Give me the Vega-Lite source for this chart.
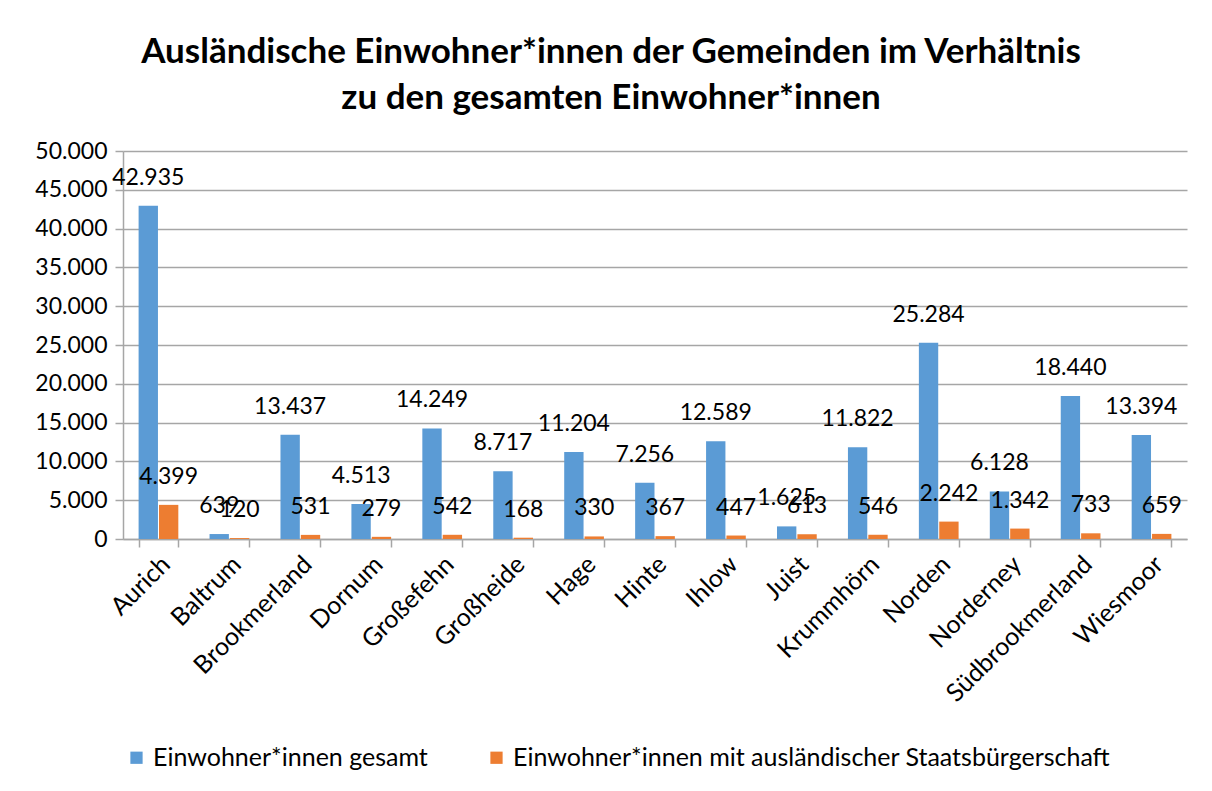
{
  "$schema": "https://vega.github.io/schema/vega-lite/v6.json",
  "width": 1064,
  "height": 388,
  "autosize": {"type": "none"},
  "padding": {"left": 123, "top": 151, "right": 25, "bottom": 252},
  "background": "white",
  "config": {
    "locale": {"number": {"decimal": ",", "thousands": ".", "grouping": [3], "currency": ["", " €"]}},
    "font": "Lato",
    "view": {"stroke": null},
    "axis": {"labelFont": "Lato", "labelFontSize": 23, "labelColor": "#000000", "domainColor": "#A6A6A6", "tickColor": "#A6A6A6", "gridColor": "#A6A6A6", "gridWidth": 1.5, "domainWidth": 1.5, "tickWidth": 1.5}
  },
  "title": {
    "text": ["Ausländische Einwohner*innen der Gemeinden im Verhältnis", "zu den gesamten Einwohner*innen"],
    "font": "Lato",
    "fontSize": 35,
    "fontWeight": "bold",
    "color": "#000000",
    "anchor": "middle",
    "dx": -44,
    "offset": 24,
    "lineHeight": 46
  },
  "data": {
    "values": [
      {"Gemeinde": "Aurich", "Serie": "Einwohner*innen gesamt", "Wert": 42935},
      {"Gemeinde": "Aurich", "Serie": "Einwohner*innen mit ausländischer Staatsbürgerschaft", "Wert": 4399},
      {"Gemeinde": "Baltrum", "Serie": "Einwohner*innen gesamt", "Wert": 639},
      {"Gemeinde": "Baltrum", "Serie": "Einwohner*innen mit ausländischer Staatsbürgerschaft", "Wert": 120},
      {"Gemeinde": "Brookmerland", "Serie": "Einwohner*innen gesamt", "Wert": 13437},
      {"Gemeinde": "Brookmerland", "Serie": "Einwohner*innen mit ausländischer Staatsbürgerschaft", "Wert": 531},
      {"Gemeinde": "Dornum", "Serie": "Einwohner*innen gesamt", "Wert": 4513},
      {"Gemeinde": "Dornum", "Serie": "Einwohner*innen mit ausländischer Staatsbürgerschaft", "Wert": 279},
      {"Gemeinde": "Großefehn", "Serie": "Einwohner*innen gesamt", "Wert": 14249},
      {"Gemeinde": "Großefehn", "Serie": "Einwohner*innen mit ausländischer Staatsbürgerschaft", "Wert": 542},
      {"Gemeinde": "Großheide", "Serie": "Einwohner*innen gesamt", "Wert": 8717},
      {"Gemeinde": "Großheide", "Serie": "Einwohner*innen mit ausländischer Staatsbürgerschaft", "Wert": 168},
      {"Gemeinde": "Hage", "Serie": "Einwohner*innen gesamt", "Wert": 11204},
      {"Gemeinde": "Hage", "Serie": "Einwohner*innen mit ausländischer Staatsbürgerschaft", "Wert": 330},
      {"Gemeinde": "Hinte", "Serie": "Einwohner*innen gesamt", "Wert": 7256},
      {"Gemeinde": "Hinte", "Serie": "Einwohner*innen mit ausländischer Staatsbürgerschaft", "Wert": 367},
      {"Gemeinde": "Ihlow", "Serie": "Einwohner*innen gesamt", "Wert": 12589},
      {"Gemeinde": "Ihlow", "Serie": "Einwohner*innen mit ausländischer Staatsbürgerschaft", "Wert": 447},
      {"Gemeinde": "Juist", "Serie": "Einwohner*innen gesamt", "Wert": 1625},
      {"Gemeinde": "Juist", "Serie": "Einwohner*innen mit ausländischer Staatsbürgerschaft", "Wert": 613},
      {"Gemeinde": "Krummhörn", "Serie": "Einwohner*innen gesamt", "Wert": 11822},
      {"Gemeinde": "Krummhörn", "Serie": "Einwohner*innen mit ausländischer Staatsbürgerschaft", "Wert": 546},
      {"Gemeinde": "Norden", "Serie": "Einwohner*innen gesamt", "Wert": 25284},
      {"Gemeinde": "Norden", "Serie": "Einwohner*innen mit ausländischer Staatsbürgerschaft", "Wert": 2242},
      {"Gemeinde": "Norderney", "Serie": "Einwohner*innen gesamt", "Wert": 6128},
      {"Gemeinde": "Norderney", "Serie": "Einwohner*innen mit ausländischer Staatsbürgerschaft", "Wert": 1342},
      {"Gemeinde": "Südbrookmerland", "Serie": "Einwohner*innen gesamt", "Wert": 18440},
      {"Gemeinde": "Südbrookmerland", "Serie": "Einwohner*innen mit ausländischer Staatsbürgerschaft", "Wert": 733},
      {"Gemeinde": "Wiesmoor", "Serie": "Einwohner*innen gesamt", "Wert": 13394},
      {"Gemeinde": "Wiesmoor", "Serie": "Einwohner*innen mit ausländischer Staatsbürgerschaft", "Wert": 659}
    ]
  },
  "encoding": {
    "x": {
      "field": "Gemeinde",
      "type": "nominal",
      "sort": null,
      "scale": {"paddingInner": 0.44, "paddingOuter": 0.22},
      "axis": {"title": null, "labelAngle": -45, "labelAlign": "right", "labelBaseline": "middle", "tickBand": "extent", "tickSize": 8, "labelPadding": 13, "labelOffset": 7, "labelFontSize": 25, "labelLimit": 400, "grid": false}
    },
    "xOffset": {"field": "Serie", "type": "nominal", "sort": null, "scale": {"paddingInner": 0.05}},
    "y": {
      "field": "Wert",
      "type": "quantitative",
      "scale": {"domain": [0, 50000], "nice": false},
      "axis": {"title": null, "values": [0, 5000, 10000, 15000, 20000, 25000, 30000, 35000, 40000, 45000, 50000], "format": ",d", "tickSize": 8, "labelPadding": 8, "grid": true}
    }
  },
  "layer": [
    {
      "mark": {"type": "bar"},
      "encoding": {
        "color": {
          "field": "Serie",
          "type": "nominal",
          "sort": null,
          "scale": {"range": ["#5B9BD5", "#ED7D31"]},
          "legend": {
            "title": null,
            "orient": "none",
            "direction": "horizontal",
            "legendX": 1,
            "legendY": 594,
            "labelFont": "Lato",
            "labelFontSize": 25,
            "labelColor": "#000000",
            "symbolType": "square",
            "symbolSize": 150,
            "symbolStrokeWidth": 0,
            "columnPadding": 56,
            "labelLimit": 800,
            "labelOffset": 4
          }
        }
      }
    },
    {
      "mark": {"type": "text", "baseline": "middle", "align": "center", "dy": -28, "fontSize": 23, "font": "Lato", "color": "#000000"},
      "encoding": {
        "text": {"field": "Wert", "type": "quantitative", "format": ",d"}
      }
    }
  ]
}
